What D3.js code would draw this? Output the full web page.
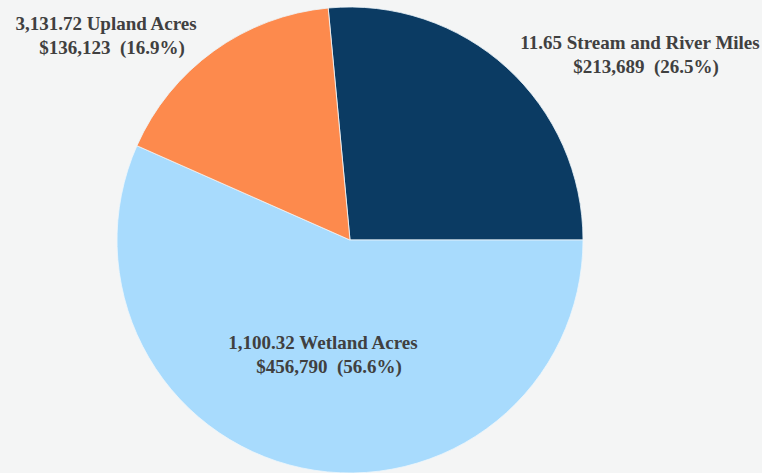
<!DOCTYPE html>
<html>
<head>
<meta charset="utf-8">
<script src="https://cdn.jsdelivr.net/npm/d3@7"></script>
<style>
  html, body { margin: 0; padding: 0; background: #f4f5f5; }
  svg { display: block; }
</style>
</head>
<body>
<svg id="chart" width="762" height="473"></svg>
<script>
// Cost by resource type
const categories = ["Stream and River Miles", "Wetland Acres", "Upland Acres"];
const quantities = ["11.65", "1,100.32", "3,131.72"];
const costs = [213689, 456790, 136123];
const percentLabels = ["26.5%", "56.6%", "16.9%"];
const colors = ["#0b3b63", "#a8dbfd", "#fd8a4d"];

const width = 762, height = 473;
const cx = 350, cy = 240, radius = 233;

const svg = d3.select("#chart");
svg.append("rect").attr("width", width).attr("height", height).attr("fill", "#f4f5f5");

// Stream slice ends exactly at 3 o'clock; the rest follow clockwise
const total = d3.sum(costs);
const start = Math.PI / 2 - 2 * Math.PI * costs[0] / total;

const pie = d3.pie().sort(null).value(d => d)
  .startAngle(start).endAngle(start + 2 * Math.PI);
const arcs = pie(costs);
const arc = d3.arc().innerRadius(0).outerRadius(radius);

const g = svg.append("g").attr("transform", `translate(${cx},${cy})`);
g.selectAll("path").data(arcs).join("path")
  .attr("d", arc)
  .attr("fill", (d, i) => colors[i])
  .attr("stroke", "#eef6fb")
  .attr("stroke-width", 0.8);

// Label placement per slice (center x of first line, baseline y)
const labelPos = [
  { x: 640, y: 49 },
  { x: 323, y: 349 },
  { x: 106, y: 30 }
];
const fmt = d3.format(",");

labelPos.forEach((p, i) => {
  const t = svg.append("text")
    .attr("text-anchor", "middle")
    .attr("font-family", "'Liberation Serif', 'Times New Roman', serif")
    .attr("font-weight", "bold")
    .attr("font-size", 19)
    .attr("fill", "#404040")
    .style("white-space", "pre");
  t.append("tspan").attr("x", p.x).attr("y", p.y)
    .text(`${quantities[i]} ${categories[i]}`);
  t.append("tspan").attr("x", p.x + 6).attr("y", p.y + 24)
    .text(`$${fmt(costs[i])}  (${percentLabels[i]})`);
});
</script>
</body>
</html>
